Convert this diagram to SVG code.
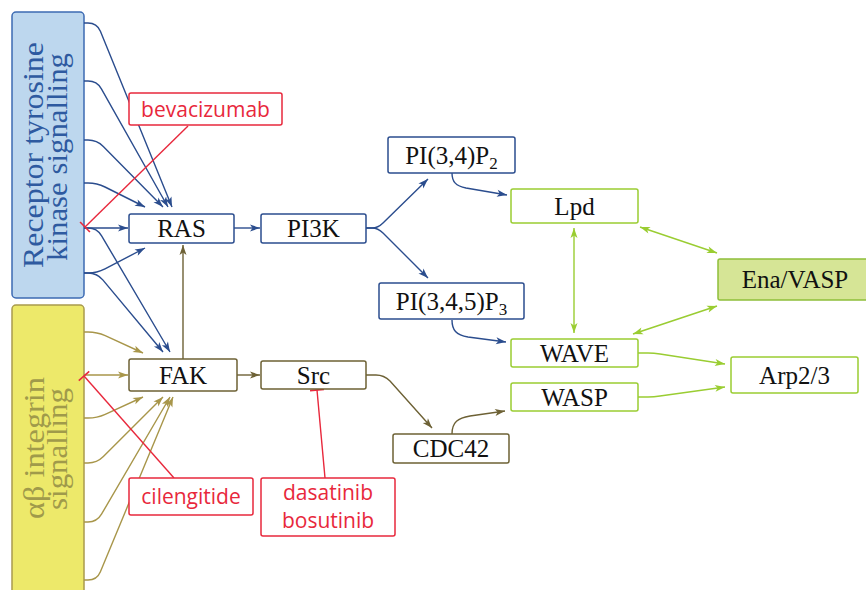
<svg xmlns="http://www.w3.org/2000/svg" width="866" height="590" viewBox="0 0 866 590">
<style>
.bg{fill:#ffffff}
.node rect{fill:#ffffff;stroke-width:1.5}
.nb rect{stroke:#2b4d8e}
.no rect{stroke:#6d6135}
.ng rect{stroke:#9acd32}
.nr rect{stroke:#e8283c}
.t{font-family:"Liberation Serif","Times New Roman",serif;font-size:25px;fill:#111111;text-anchor:middle}
.d{font-family:"Open Sans","Liberation Sans",sans-serif;font-size:21px;fill:#e8283c;text-anchor:middle}
.p{font-family:"Liberation Serif","Times New Roman",serif;font-size:29px;text-anchor:middle}
.c path{fill:none;stroke-width:1.4}
.cb{stroke:#2b4d8e}
.cl{stroke:#a8964a}
.co{stroke:#6d6135}
.cg{stroke:#9acd32}
.cr{stroke:#e8283c}
</style>
<defs>
<marker id="ab" markerUnits="userSpaceOnUse" markerWidth="10" markerHeight="8" refX="10" refY="4" orient="auto" overflow="visible"><path d="M0,0.5 L10,4 L0,7.5 L2.5,4 Z" fill="#2b4d8e"/></marker>
<marker id="al" markerUnits="userSpaceOnUse" markerWidth="10" markerHeight="8" refX="10" refY="4" orient="auto" overflow="visible"><path d="M0,0.5 L10,4 L0,7.5 L2.5,4 Z" fill="#a8964a"/></marker>
<marker id="ao" markerUnits="userSpaceOnUse" markerWidth="10" markerHeight="8" refX="10" refY="4" orient="auto" overflow="visible"><path d="M0,0.5 L10,4 L0,7.5 L2.5,4 Z" fill="#6d6135"/></marker>
<marker id="ag" markerUnits="userSpaceOnUse" markerWidth="10" markerHeight="8" refX="10" refY="4" orient="auto-start-reverse" overflow="visible"><path d="M0,0.5 L10,4 L0,7.5 L2.5,4 Z" fill="#9acd32"/></marker>
<marker id="bar" markerUnits="userSpaceOnUse" markerWidth="4" markerHeight="14" refX="1" refY="7" orient="auto" overflow="visible"><path d="M1,0 L1,14" stroke="#e8283c" stroke-width="1.6"/></marker>
</defs>
<rect class="bg" x="0" y="0" width="866" height="590"/>

<g id="panel-rtk">
<rect x="12" y="12" width="72" height="286" rx="4" fill="#bdd7ee" stroke="#3d6bb3" stroke-width="1.5"/>
<text class="p" fill="#2e5aa0" transform="translate(43,155) rotate(-90)" textLength="226" lengthAdjust="spacingAndGlyphs">Receptor tyrosine</text>
<text class="p" fill="#2e5aa0" transform="translate(67,157) rotate(-90)" textLength="208" lengthAdjust="spacingAndGlyphs">kinase signalling</text>
</g>
<g id="panel-integrin">
<rect x="12" y="305" width="72" height="300" rx="4" fill="#ede96a" stroke="#a99b4e" stroke-width="1.5"/>
<text class="p" fill="#a09a4a" transform="translate(44,448) rotate(-90)" textLength="142" lengthAdjust="spacingAndGlyphs">αβ integrin</text>
<text class="p" fill="#a09a4a" transform="translate(67,449) rotate(-90)" textLength="122" lengthAdjust="spacingAndGlyphs">signalling</text>
</g>

<g id="connectors" class="c">
<path class="cb" marker-end="url(#ab)" d="M84,23 L88,23 Q97,23 100.4,31.3 L172,207"/>
<path class="cb" marker-end="url(#ab)" d="M84,81 L88,81 Q97,81 101.4,88.8 L168,207"/>
<path class="cb" marker-end="url(#ab)" d="M84,140 L88,140 Q97,140 103.3,146.4 L163,207"/>
<path class="cb" marker-end="url(#ab)" d="M84,183 L88,183 Q97,183 105,187 L145,207"/>
<path class="cb" marker-end="url(#ab)" d="M84,228 L128,228"/>
<path class="cb" marker-end="url(#ab)" d="M84,228 L88,228 Q97,228 101.6,235.8 L170,352"/>
<path class="cb" marker-end="url(#ab)" d="M84,273 L88,273 Q97,273 105,268.8 L145,248"/>
<path class="cb" marker-end="url(#ab)" d="M84,273 L88,273 Q97,273 102.8,279.9 L163,352"/>

<path class="cl" marker-end="url(#al)" d="M84,332 L88,332 Q97,332 105.2,335.7 L143,353"/>
<path class="cl" marker-end="url(#al)" d="M84,375 L128,375"/>
<path class="cl" marker-end="url(#al)" d="M84,418 L88,418 Q97,418 105.2,414.3 L143,397"/>
<path class="cl" marker-end="url(#al)" d="M84,463 L88,463 Q97,463 103.4,456.6 L163,397"/>
<path class="cl" marker-end="url(#al)" d="M84,522 L88,522 Q97,522 101.5,514.2 L170,397"/>
<path class="cl" marker-end="url(#al)" d="M84,580 L88,580 Q97,580 100.4,571.7 L173,397"/>

<path class="co" marker-end="url(#ao)" d="M183,359 L183,245"/>
<path class="cb" marker-end="url(#ab)" d="M234,228 L260,228"/>
<path class="co" marker-end="url(#ao)" d="M237,375 L260,375"/>
<path class="cb" marker-end="url(#ab)" d="M366,228 L372,228 Q378,228 383,223 L428,179"/>
<path class="cb" marker-end="url(#ab)" d="M366,228 L372,228 Q378,228 383,233 L428,278"/>
<path class="cb" marker-end="url(#ab)" d="M452,173 C452,182 456,186 466,188 L507,195"/>
<path class="cb" marker-end="url(#ab)" d="M452,320 C452,330 456,335 468,337 L506,342"/>
<path class="co" marker-end="url(#ao)" d="M366,375 L376,375 Q384,375 390,381 L432,428"/>
<path class="co" marker-end="url(#ao)" d="M452,434 C452,422 458,418 470,416 L505,411"/>

<path class="cg" marker-start="url(#ag)" marker-end="url(#ag)" d="M574,228 L574,333"/>
<path class="cg" marker-start="url(#ag)" marker-end="url(#ag)" d="M640,227 L717,253"/>
<path class="cg" marker-start="url(#ag)" marker-end="url(#ag)" d="M633,334 L717,306"/>
<path class="cg" marker-end="url(#ag)" d="M638,353 L648,353 Q654,353 660,354 L725,364"/>
<path class="cg" marker-end="url(#ag)" d="M638,397 L648,397 Q654,397 660,396 L725,387"/>

<path class="cr" marker-end="url(#bar)" d="M188,126 L85,227"/>
<path class="cr" marker-end="url(#bar)" d="M174,478 L84,376"/>
<path class="cr" marker-end="url(#bar)" d="M325,478 L317,390"/>
</g>

<g id="node-ras" class="node nb"><rect x="129" y="214" width="105" height="29" rx="2"/><text class="t" x="181.5" y="237">RAS</text></g>
<g id="node-pi3k" class="node nb"><rect x="261" y="214" width="105" height="29" rx="2"/><text class="t" x="313.5" y="237">PI3K</text></g>
<g id="node-fak" class="node no"><rect x="129" y="359" width="108" height="32" rx="2"/><text class="t" x="183" y="384">FAK</text></g>
<g id="node-src" class="node no"><rect x="261" y="361" width="105" height="28" rx="2"/><text class="t" x="313.5" y="384">Src</text></g>
<g id="node-cdc42" class="node no"><rect x="393" y="434" width="116" height="29" rx="2"/><text class="t" x="451" y="457">CDC42</text></g>
<g id="node-pi34p2" class="node nb"><rect x="388" y="137" width="127" height="36" rx="2"/><text class="t" x="451.5" y="164">PI(3,4)P<tspan font-size="17" dy="5">2</tspan></text></g>
<g id="node-pi345p3" class="node nb"><rect x="379" y="283" width="145" height="36" rx="2"/><text class="t" x="451.5" y="310">PI(3,4,5)P<tspan font-size="17" dy="5">3</tspan></text></g>
<g id="node-lpd" class="node ng"><rect x="511" y="189" width="127" height="34" rx="2"/><text class="t" x="574.5" y="215">Lpd</text></g>
<g id="node-wave" class="node ng"><rect x="511" y="339" width="127" height="28" rx="2"/><text class="t" x="574.5" y="362">WAVE</text></g>
<g id="node-wasp" class="node ng"><rect x="511" y="383" width="127" height="28" rx="2"/><text class="t" x="574.5" y="406">WASP</text></g>
<g id="node-arp23" class="node ng"><rect x="731" y="357" width="127" height="36" rx="2"/><text class="t" x="794.5" y="384">Arp2/3</text></g>
<g id="node-enavasp" class="node ng"><rect x="718" y="259" width="150" height="41" rx="2" style="fill:#d6e596;stroke:#8fbf3a"/><text class="t" x="795" y="288">Ena/VASP</text></g>

<g id="drug-bevacizumab" class="node nr"><rect x="129" y="93" width="153" height="32" rx="2"/><text class="d" x="205.5" y="117">bevacizumab</text></g>
<g id="drug-cilengitide" class="node nr"><rect x="129" y="478" width="124" height="37" rx="2"/><text class="d" x="191" y="504">cilengitide</text></g>
<g id="drug-dasatinib" class="node nr"><rect x="261" y="478" width="134" height="58" rx="2"/><text class="d" x="328" y="500">dasatinib</text><text class="d" x="328" y="528">bosutinib</text></g>
</svg>
